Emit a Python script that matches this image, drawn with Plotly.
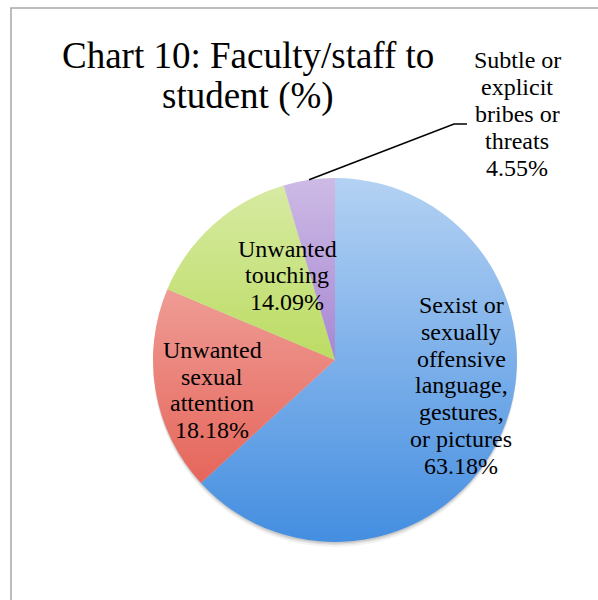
import base64
import numpy as np
import plotly.graph_objects as go

# Harassment types reported, faculty/staff toward students (%)
categories = [
    "Sexist or sexually offensive language, gestures, or pictures",
    "Unwanted sexual attention",
    "Unwanted touching",
    "Subtle or explicit bribes or threats",
]
values = [63.18, 18.18, 14.09, 4.55]
label_lines = [
    ["Sexist or", "sexually", "offensive", "language,", "gestures,", "or pictures"],
    ["Unwanted", "sexual", "attention"],
    ["Unwanted", "touching"],
    ["Subtle or", "explicit", "bribes or", "threats"],
]
title_lines = ["Chart 10: Faculty/staff to", "student (%)"]

# Slice base colours (a white vertical wash is laid over them)
colors = ["#448ee1", "#e35549", "#9fcd20", "#8254bf"]

W, H = 598, 600
FONT = "Liberation Serif"

# Pie geometry in pixels
cx, cy, R = 335, 360, 182
# label block: centre x, first baseline y, line step
label_pos = [(461, 313, 26.8), (212, 358, 26.7), (287, 257, 26.5), (517, 68, 27.0)]


def px(x):
    return x / W


def py(y):
    return 1 - y / H


fig = go.Figure()

# soft drop shadow under the pie
for dy, alpha in [(5, 0.05), (3, 0.08), (1.5, 0.10)]:
    fig.add_trace(go.Pie(
        values=[1], marker=dict(colors=[f"rgba(0,0,0,{alpha})"], line=dict(width=0)),
        textinfo="none", hoverinfo="skip", showlegend=False, sort=False,
        domain=dict(x=[px(cx - R), px(cx + R)], y=[py(cy + R + dy), py(cy - R + dy)]),
    ))

fig.add_trace(go.Pie(
    labels=categories,
    values=values,
    sort=False,
    direction="clockwise",
    rotation=0,
    marker=dict(colors=colors, line=dict(width=0)),
    textinfo="none",
    hovertemplate="%{label}: %{value:.2f}%<extra></extra>",
    showlegend=False,
    domain=dict(x=[px(cx - R), px(cx + R)], y=[py(cy + R), py(cy - R)]),
))

# vertical light-to-dark wash over the pie
svg = (
    '<svg xmlns="http://www.w3.org/2000/svg" width="100" height="100" preserveAspectRatio="none">'
    '<defs><linearGradient id="g" x1="0" y1="0" x2="0" y2="1">'
    '<stop offset="0" stop-color="#ffffff" stop-opacity="0.6"/>'
    '<stop offset="1" stop-color="#ffffff" stop-opacity="0"/>'
    '</linearGradient></defs><rect width="100" height="100" fill="url(#g)"/></svg>'
)
wash = "data:image/svg+xml;base64," + base64.b64encode(svg.encode()).decode()
fig.add_layout_image(dict(
    source=wash, xref="paper", yref="paper",
    x=px(cx - R), y=py(cy - R), sizex=2 * R / W, sizey=2 * R / H,
    xanchor="left", yanchor="top", sizing="stretch", layer="above",
))

annotations = []
fs = 24
for lines, v, (lx, ly, step) in zip(label_lines, values, label_pos):
    for i, t in enumerate(lines + [f"{v:.2f}%"]):
        base = ly + i * step
        annotations.append(dict(
            x=px(lx), y=py(base - 0.3375 * fs), xref="paper", yref="paper",
            text=t, showarrow=False, xanchor="center", yanchor="middle",
            font=dict(family=FONT, size=fs, color="#000000"),
        ))

tfs = 37
for i, t in enumerate(title_lines):
    base = 68 + i * 40
    annotations.append(dict(
        x=px(248), y=py(base - 0.3375 * tfs), xref="paper", yref="paper",
        text=t, showarrow=False, xanchor="center", yanchor="middle",
        font=dict(family=FONT, size=tfs, color="#000000"),
    ))

# leader line from the smallest slice out to its label
cum = np.cumsum(values) / np.sum(values)
mid = (cum[-2] + cum[-1]) / 2 * 2 * np.pi
sx, sy = cx + R * np.sin(mid), cy - R * np.cos(mid)
path = f"M {px(sx)},{py(sy)} L {px(454)},{py(124)} L {px(467)},{py(124)}"

shapes = [
    dict(type="path", xref="paper", yref="paper", path=path,
         line=dict(color="#000000", width=1.6), layer="above"),
    # chart frame
    dict(type="rect", xref="paper", yref="paper",
         x0=px(11), y0=py(640), x1=px(640), y1=py(8),
         line=dict(color="#a6a6a6", width=1.5), fillcolor="rgba(0,0,0,0)", layer="below"),
]

fig.update_layout(
    width=W, height=H,
    margin=dict(l=0, r=0, t=0, b=0),
    paper_bgcolor="#ffffff",
    plot_bgcolor="#ffffff",
    annotations=annotations,
    shapes=shapes,
)

fig.write_html("out.html")
